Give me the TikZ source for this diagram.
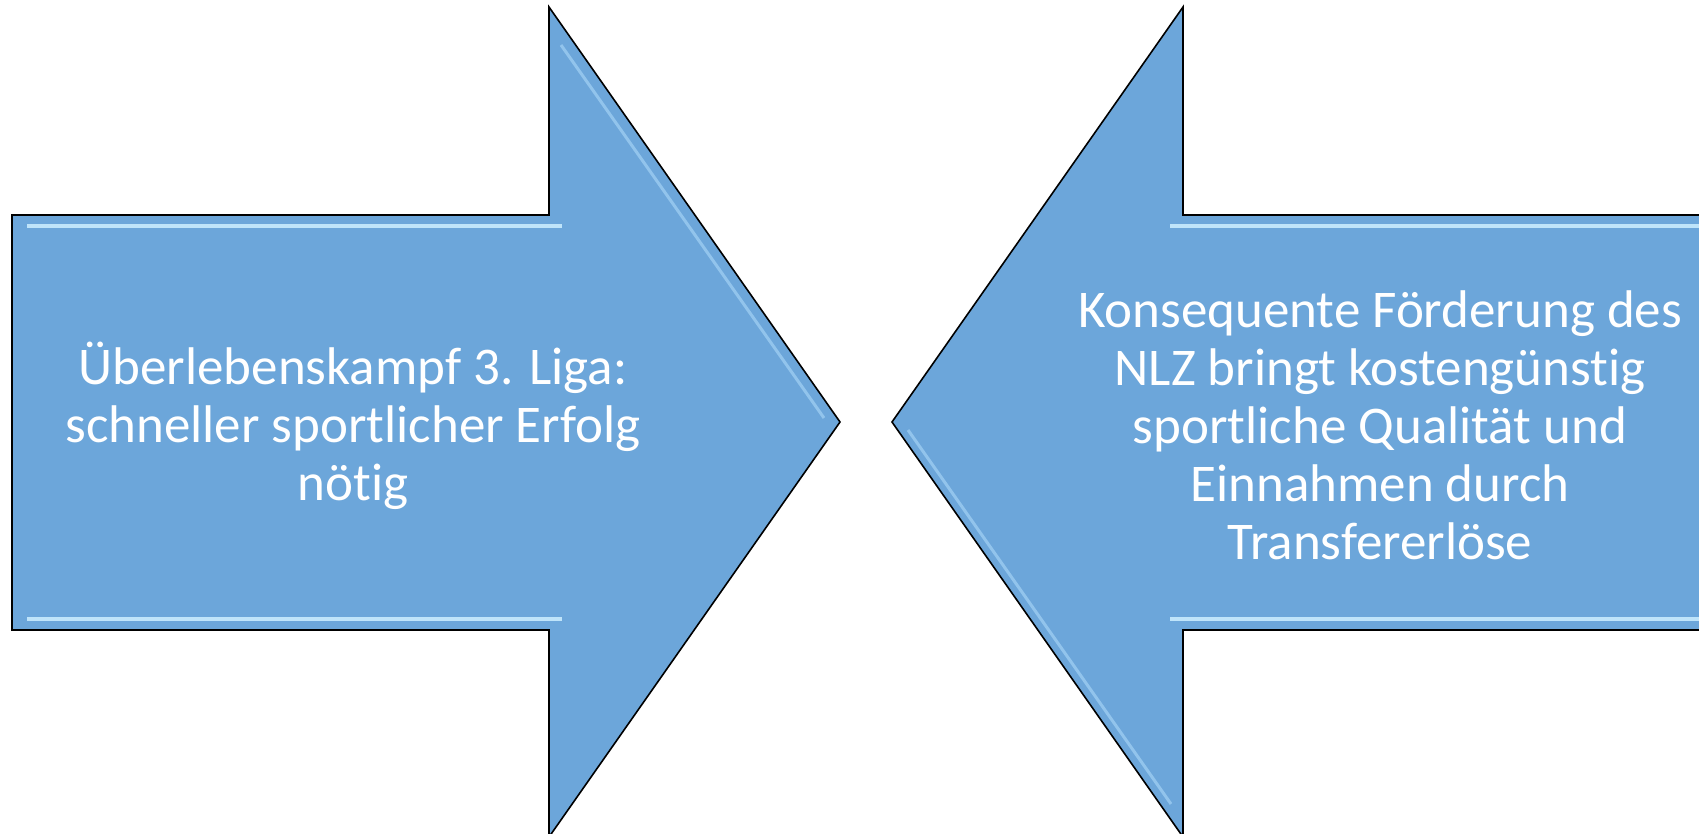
\documentclass[tikz,border=0pt]{standalone}
\usepackage{fontspec}
\setmainfont{Carlito}[RawFeature=-liga]
\definecolor{arrowfill}{HTML}{6CA6DA}
\definecolor{hilite}{HTML}{BFE4FA}
\definecolor{hilite2}{HTML}{92C4EC}
\begin{document}
\begin{tikzpicture}[x=1pt,y=-1pt,
  arrowshape/.style={fill=arrowfill,draw=black,line width=1.6pt,line join=miter},
  glow/.style={draw=hilite,line width=4pt},
  glowsoft/.style={draw=hilite2,line width=3pt},
  label/.style={text=white,font=\fontsize{53}{58}\selectfont,align=center,inner sep=0pt}]
\useasboundingbox (0,0) rectangle (1699,834);
\begin{scope}
\clip (0,0) rectangle (1699,834);
% left arrow
\path[arrowshape] (12,215) -- (549,215) -- (549,7) -- (840,422) -- (549,837) -- (549,630) -- (12,630) -- cycle;
\draw[glow] (27,226) -- (562,226);
\draw[glow] (27,619) -- (562,619);
\draw[glowsoft] (561,45) -- (824,418);
% right arrow
\path[arrowshape] (1712,215) -- (1183,215) -- (1183,7) -- (892,422) -- (1183,837) -- (1183,630) -- (1712,630) -- cycle;
\draw[glow] (1170,226) -- (1712,226);
\draw[glow] (1170,619) -- (1712,619);
\draw[glowsoft] (908,430) -- (1171,804);
\end{scope}
\node[label] (lefttext) at (353,426) {Überlebenskampf 3. Liga:\\schneller sportlicher Erfolg\\nötig};
\node[label] (righttext) at (1380,425) {Konsequente Förderung des\\NLZ bringt kostengünstig\\sportliche Qualität und\\Einnahmen durch\\Transfererlöse};
\end{tikzpicture}
\end{document}
